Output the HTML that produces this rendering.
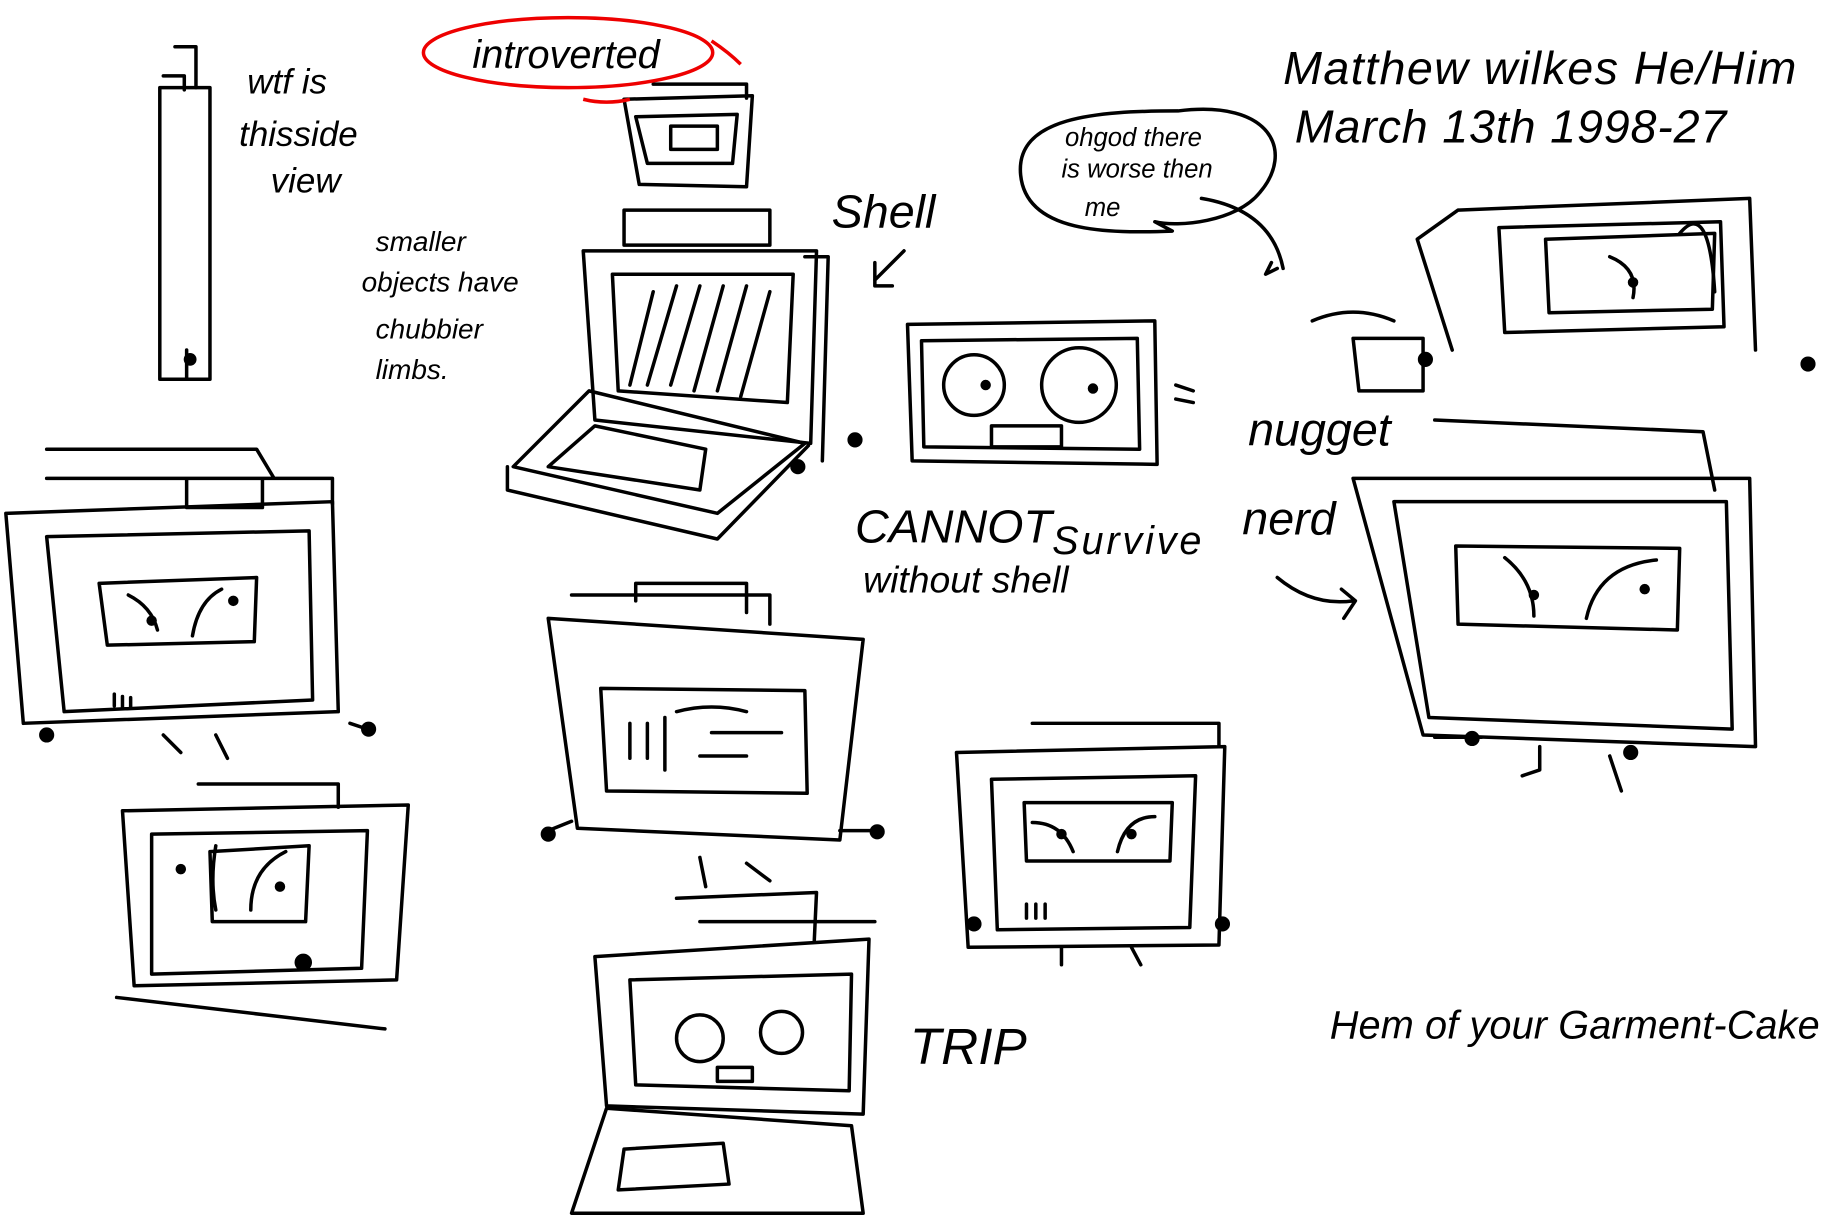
<!DOCTYPE html>
<html><head><meta charset="utf-8"><style>
html,body{margin:0;padding:0;background:#fff;}
svg{display:block}
text{font-family:"Liberation Sans",sans-serif;fill:#000;font-style:italic}
</style></head><body>
<svg width="1829" height="1218" viewBox="0 0 1568 1044" xmlns="http://www.w3.org/2000/svg">
<g fill="none" stroke="#000" stroke-width="3" stroke-linecap="round" stroke-linejoin="round">
<rect x="137" y="75" width="43" height="250"/><path d="M150 40 h18 v35 M140 65 h18 v12 M160 300 v25"/>
<circle cx="163" cy="308" r="4" fill="#000"/>
<path d="M535 85 L645 82 L640 160 L548 158 Z M545 100 L632 98 L628 140 L555 140 Z M575 108 h40 v20 h-40 Z M560 72 h80 v12"/>
<path d="M535 180 h125 v30 h-125 Z M500 215 L700 215 L695 380 L510 360 Z M525 235 L680 235 L675 345 L530 335 Z M690 220 l20 0 l-5 175"/>
<path d="M540 330 l20 -80 M555 330 l25 -85 M575 330 l25 -85 M595 335 l25 -90 M615 335 l25 -90 M635 340 l25 -90"/>
<path d="M505 335 L440 400 L615 440 L690 380 Z M470 400 L510 365 L605 385 L600 420 Z M435 400 v20 L615 462 l78 -80"/>
<circle cx="733" cy="377" r="5" fill="#000"/><circle cx="684" cy="400" r="5" fill="#000"/>
<path d="M778 278 L990 275 L992 398 L782 395 Z M790 292 L975 290 L977 385 L792 383 Z"/>
<circle cx="835" cy="330" r="26"/><circle cx="925" cy="330" r="32"/>
<circle cx="845" cy="330" r="3" fill="#000"/><circle cx="937" cy="333" r="3" fill="#000"/>
<path d="M850 365 h60 v18 h-60 Z M1008 330 l15 5 M1008 342 l15 3"/>
<path d="M5 440 L285 430 L290 610 L20 620 Z M40 460 L265 455 L268 600 L55 610 Z M85 500 L220 495 L218 550 L92 553 Z"/>
<path d="M110 510 q20 10 25 30 M190 505 q-20 10 -25 40"/><circle cx="130" cy="532" r="3" fill="#000"/><circle cx="200" cy="515" r="3" fill="#000"/>
<path d="M40 385 L220 385 L235 410 L40 410 M160 410 h65 v25 h-65 Z M230 410 h55 v22"/>
<path d="M98 595 v10 M105 597 v10 M112 598 v8 M140 630 l15 15 M185 630 l10 20 M300 620 l15 5"/>
<circle cx="40" cy="630" r="5" fill="#000"/><circle cx="316" cy="625" r="5" fill="#000"/>
<path d="M105 695 L350 690 L340 840 L115 845 Z M130 715 L315 712 L310 830 L130 835 Z M180 730 L265 725 L262 790 L182 790 Z M170 672 h120 v20 M100 855 L330 882"/>
<path d="M185 725 q-5 30 0 55 M245 730 q-30 15 -30 50"/><circle cx="155" cy="745" r="3" fill="#000"/><circle cx="240" cy="760" r="3" fill="#000"/>
<circle cx="260" cy="825" r="6" fill="#000"/>
<path d="M470 530 L740 548 L720 720 L495 710 Z M515 590 L690 592 L692 680 L520 678 Z M490 510 h170 v25 M545 515 v-15 h95 v25"/>
<path d="M540 620 v30 M555 620 v30 M570 615 v45 M580 610 q30 -8 60 0 M610 628 h60 M600 648 h40"/>
<path d="M470 712 l20 -8 M720 712 l30 0 M600 735 l5 25 M640 740 l20 15"/>
<circle cx="470" cy="715" r="5" fill="#000"/><circle cx="752" cy="713" r="5" fill="#000"/>
<path d="M510 820 L745 805 L740 955 L520 948 Z M540 840 L730 835 L728 935 L545 930 Z M580 770 L700 765 L698 808 M600 790 h150"/>
<circle cx="600" cy="890" r="20"/><circle cx="670" cy="885" r="18"/>
<path d="M615 915 h30 v12 h-30 Z M520 950 L490 1040 L740 1040 L730 965 Z M535 985 L620 980 L625 1015 L530 1020 Z"/>
<path d="M820 645 L1050 640 L1045 810 L830 812 Z M850 668 L1025 665 L1020 795 L855 797 Z M878 688 L1005 688 L1003 738 L880 738 Z M885 620 h160 v20"/>
<path d="M885 705 q25 0 35 25 M990 700 q-25 0 -32 30"/><circle cx="910" cy="715" r="3" fill="#000"/><circle cx="970" cy="715" r="3" fill="#000"/>
<path d="M910 812 v15 M970 812 l8 15 M880 775 v12 M888 775 v12 M896 775 v12"/><circle cx="835" cy="792" r="5" fill="#000"/><circle cx="1048" cy="792" r="5" fill="#000"/>
<path d="M1160 410 L1500 410 L1505 640 L1220 630 Z M1195 430 L1480 430 L1485 625 L1225 615 Z M1248 468 L1440 470 L1438 540 L1250 535 Z M1230 360 L1460 370 L1470 420"/>
<path d="M1290 478 q25 20 25 50 M1420 480 q-50 5 -60 50"/><circle cx="1315" cy="510" r="3" fill="#000"/><circle cx="1410" cy="505" r="3" fill="#000"/>
<path d="M1230 632 h40 M1320 640 v20 l-15 5 M1380 648 l10 30"/><circle cx="1262" cy="633" r="5" fill="#000"/><circle cx="1398" cy="645" r="5" fill="#000"/>
<path d="M1095 495 q30 25 65 20 M1150 505 l12 10 l-10 15"/>
<path d="M1250 180 L1500 170 L1505 300 M1285 195 L1475 190 L1478 280 L1290 285 Z M1325 205 L1470 200 L1468 265 L1328 268 Z M1250 180 L1215 205 L1245 300"/>
<path d="M1380 220 q25 10 20 35 M1440 200 q25 -30 30 50"/><circle cx="1400" cy="242" r="3" fill="#000"/>
<path d="M1125 275 q35 -15 70 0 M1160 290 h60 v45 h-55 Z"/><circle cx="1222" cy="308" r="5" fill="#000"/><circle cx="1550" cy="312" r="5" fill="#000"/>
<path d="M1010 95 C1090 85 1110 130 1080 165 C1060 190 1010 195 990 190 L1005 198 C950 200 880 200 875 150 C870 100 940 95 1010 95 Z"/>
<path d="M1030 170 q60 10 70 60 M1090 225 l-5 10 l10 -5"/>
<path d="M750 240 l25 -25 M750 225 v20 h15"/>
</g>
<ellipse cx="487" cy="45" rx="124" ry="30" fill="none" stroke="#e00" stroke-width="3"/>
<path d="M610 35 q15 10 25 20 M500 85 q20 5 40 0" fill="none" stroke="#e00" stroke-width="3"/>
<text x="405" y="58" font-size="34">introverted</text>
<text x="212" y="80" font-size="30">wtf is</text>
<text x="205" y="125" font-size="30">thisside</text>
<text x="232" y="165" font-size="30">view</text>
<text x="322" y="215" font-size="24">smaller</text>
<text x="310" y="250" font-size="24">objects have</text>
<text x="322" y="290" font-size="24">chubbier</text>
<text x="322" y="325" font-size="24">limbs.</text>
<text x="713" y="195" font-size="40">Shell</text>
<text x="1100" y="72" font-size="40" textLength="440">Matthew wilkes He/Him</text>
<text x="1110" y="122" font-size="40" textLength="370">March 13th 1998-27</text>
<text x="913" y="125" font-size="22">ohgod there</text>
<text x="910" y="152" font-size="22">is worse then</text>
<text x="930" y="185" font-size="22">me</text>
<text x="733" y="465" font-size="40">CANNOT</text>
<text x="902" y="475" font-size="34" textLength="128">Survive</text>
<text x="740" y="508" font-size="32">without shell</text>
<text x="1070" y="382" font-size="40">nugget</text>
<text x="1065" y="458" font-size="40">nerd</text>
<text x="780" y="912" font-size="44">TRIP</text>
<text x="1140" y="890" font-size="34" textLength="420">Hem of your Garment-Cake</text>
</svg>
</body></html>
